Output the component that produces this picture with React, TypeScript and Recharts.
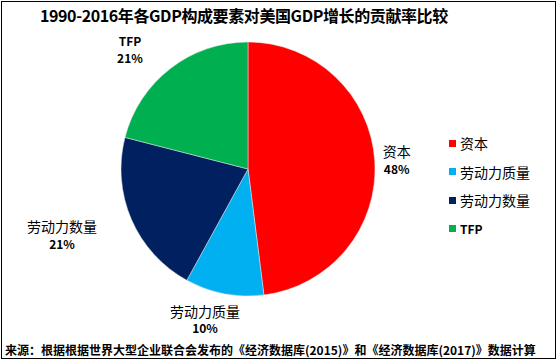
import { Cell, Pie, PieChart } from "recharts";

const names = ["资本", "劳动力质量", "劳动力数量", "TFP"];
const shares = [48, 10, 21, 21];
const colors = ["#FF0000", "#00B0F0", "#002060", "#00B050"];

const title = "1990-2016年各GDP构成要素对美国GDP增长的贡献率比较";
const source = "来源：根据根据世界大型企业联合会发布的《经济数据库(2015)》和《经济数据库(2017)》数据计算";

const data = names.map((name, i) => ({ name, value: shares[i] }));

// label placement tweaks (like Excel's "best fit")
const labelShift = [
  { angle: 0.2, gap: 22 },
  { angle: -5.2, gap: 29 },
  { angle: -4.1, gap: 70 },
  { angle: 6.5, gap: 42 }
];

const FONT = '"Noto Sans CJK SC", "Noto Sans", sans-serif';
const RAD = Math.PI / 180;

function renderLabel(props: any) {
  const { cx, cy, midAngle, outerRadius, index, name, value } = props;
  const shift = labelShift[index];
  const a = (midAngle + shift.angle) * RAD;
  const r = outerRadius + shift.gap;
  const x = cx + r * Math.cos(a);
  const y = cy - r * Math.sin(a);
  const latin = /^[A-Za-z]+$/.test(name);
  return (
    <g>
      <text
        x={x}
        y={y - 8}
        textAnchor="middle"
        dominantBaseline="central"
        fontFamily={FONT}
        fontSize={latin ? 12 : 14}
        fontWeight={latin ? "bold" : "normal"}
        fill="#000"
      >
        {name}
      </text>
      <text
        x={x}
        y={y + 9}
        textAnchor="middle"
        dominantBaseline="central"
        fontFamily={FONT}
        fontSize={12}
        fontWeight="bold"
        fill="#000"
      >
        {`${value}%`}
      </text>
    </g>
  );
}

function LegendBox() {
  return (
    <div style={{ position: "absolute", left: 449, top: 129, fontFamily: FONT }}>
      {names.map((name, i) => (
        <div key={name} style={{ display: "flex", alignItems: "center", height: 28.5 }}>
          <span style={{ width: 7, height: 7, background: colors[i], marginRight: 4 }} />
          <span
            style={{
              fontSize: name === "TFP" ? 12 : 14,
              fontWeight: name === "TFP" ? "bold" : "normal",
              color: "#000"
            }}
          >
            {name}
          </span>
        </div>
      ))}
    </div>
  );
}

export default function App() {
  return (
    <div style={{ position: "absolute", left: 0, top: 0, width: 557, height: 360, background: "#fff" }}>
      <div
        style={{
          position: "absolute",
          left: 1,
          top: 1,
          width: 555,
          height: 358,
          border: "1px solid #000",
          boxSizing: "border-box"
        }}
      />
      <div
        style={{
          position: "absolute",
          left: 40,
          top: 4,
          whiteSpace: "nowrap",
          fontFamily: FONT,
          fontSize: 16,
          letterSpacing: -0.4,
          lineHeight: "22px",
          fontWeight: "bold",
          color: "#000"
        }}
      >
        {title}
      </div>
      <PieChart
        width={557}
        height={360}
        margin={{ top: 0, right: 0, bottom: 0, left: 0 }}
        style={{ position: "absolute", left: 0, top: 0 }}
      >
        <Pie
          data={data}
          dataKey="value"
          nameKey="name"
          cx={248}
          cy={169}
          outerRadius={127}
          startAngle={90}
          endAngle={-270}
          stroke="#e6e6e6"
          strokeWidth={0.5}
          label={renderLabel}
          labelLine={false}
          isAnimationActive={false}
        >
          {data.map((d, i) => (
            <Cell key={d.name} fill={colors[i]} />
          ))}
        </Pie>
      </PieChart>
      <LegendBox />
      <div
        style={{
          position: "absolute",
          left: 5,
          top: 341,
          whiteSpace: "nowrap",
          fontFamily: FONT,
          fontSize: 12,
          lineHeight: "18px",
          fontWeight: "bold",
          color: "#000"
        }}
      >
        {source}
      </div>
    </div>
  );
}
